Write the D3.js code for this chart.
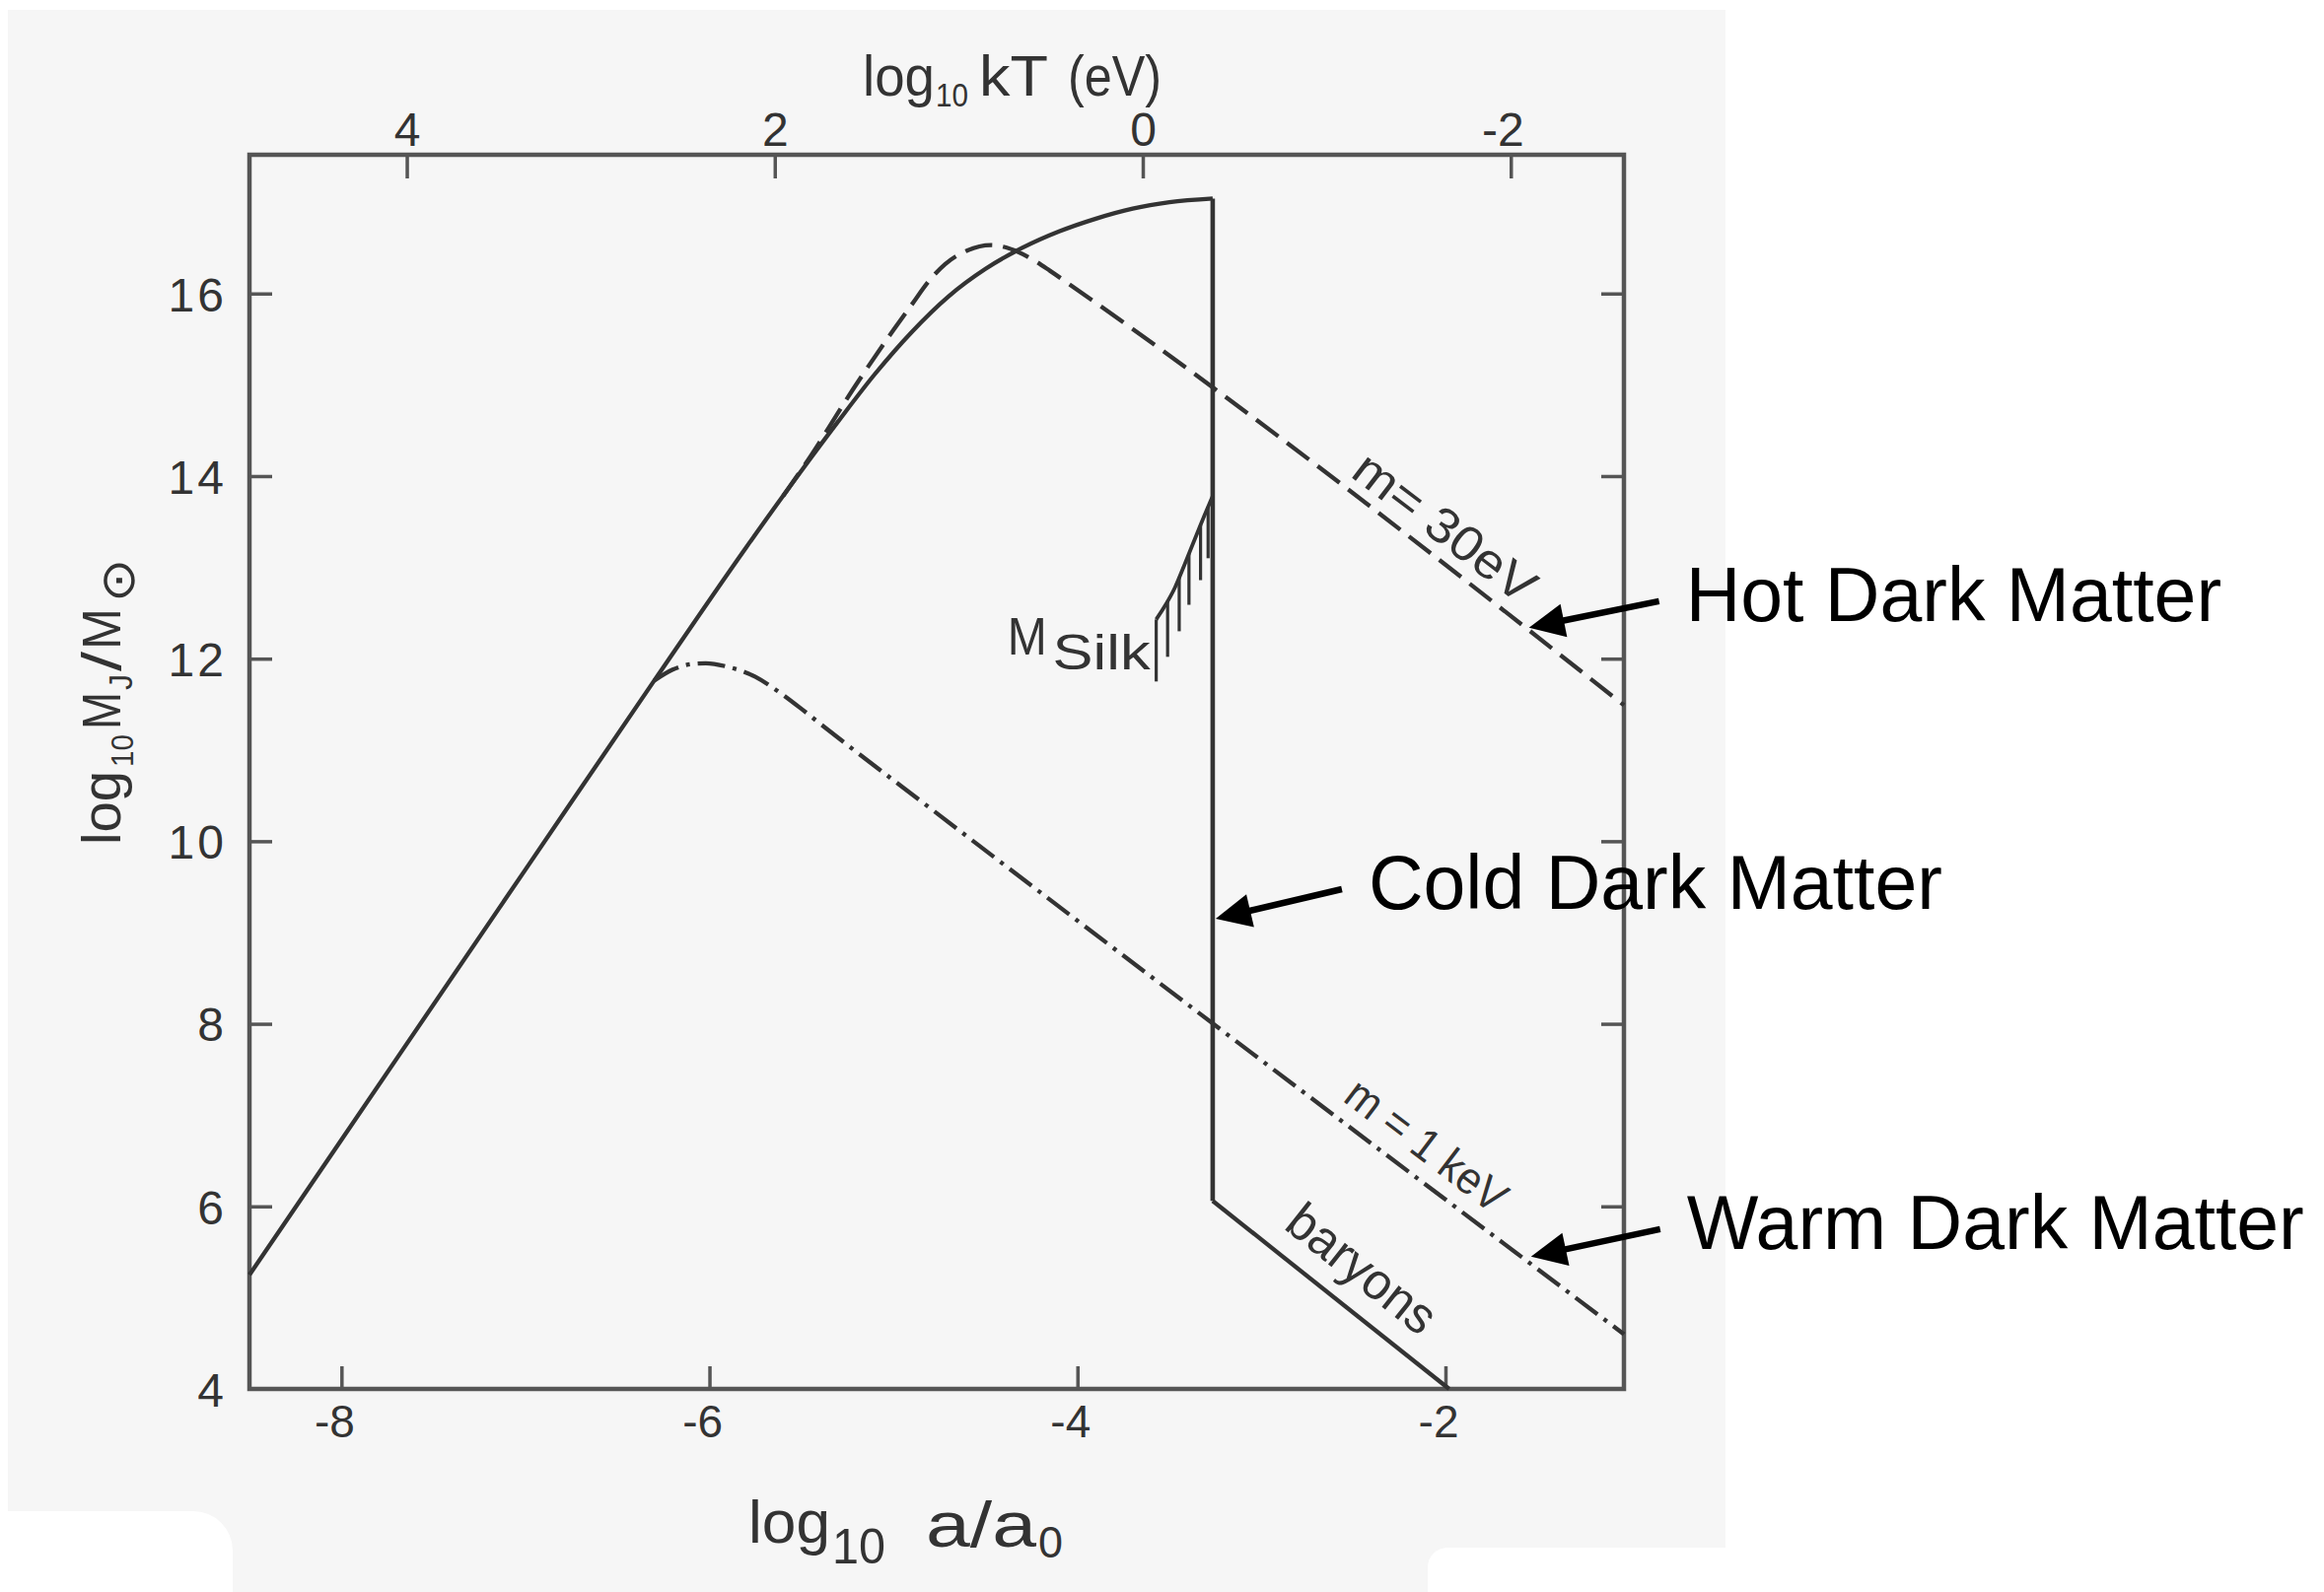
<!DOCTYPE html>
<html>
<head>
<meta charset="utf-8">
<script src="https://cdn.jsdelivr.net/npm/d3@7"></script>
<style>
  html, body { margin: 0; padding: 0; background: #fff; }
  svg { display: block; }
</style>
</head>
<body>
<svg id="chart" width="2357" height="1615"></svg>
<script>
// ---- Jeans mass vs. scale factor: curves in (log10 a/a0, log10 MJ/Msun) ----
// Cold dark matter / total Jeans mass (solid)
const cdmLogA = [-8.5, -8.0, -7.0, -6.3, -5.8, -5.5, -5.3, -5.1, -4.9, -4.7, -4.5, -4.3, -4.1, -3.9, -3.7, -3.5, -3.265];
const cdmLogM = [5.25, 6.73, 9.69, 11.76, 13.22, 14.06, 14.6, 15.12, 15.58, 15.97, 16.27, 16.5, 16.68, 16.82, 16.93, 17.0, 17.04];
// drop at recombination (solid)
const dropLogA = [-3.265, -3.265];
const dropLogM = [17.04, 6.06];
// baryons after recombination (solid)
const baryonLogA = [-3.265, -1.98];
const baryonLogM = [6.06, 4.0];
// hot dark matter, m = 30 eV (dashed)
const hdmLogA = [-5.6, -5.45, -5.22, -5.0, -4.9, -4.81, -4.72, -4.6, -4.47, -4.38, -4.25, -4.15, -4.05, -1.03];
const hdmLogM = [13.78, 14.22, 14.95, 15.6, 15.88, 16.13, 16.32, 16.47, 16.53, 16.5, 16.38, 16.25, 16.11, 11.49];
// warm dark matter, m = 1 keV (dash-dot)
const wdmLogA = [-6.3, -6.2, -6.1, -6.02, -5.9, -5.75, -5.64, -5.5, -5.4, -4.76, -1.03];
const wdmLogM = [11.76, 11.88, 11.94, 11.95, 11.91, 11.8, 11.66, 11.45, 11.29, 10.3, 4.6];
// Silk damping mass boundary and its hatching (lower ends)
const silkLogA = [-3.572, -3.53, -3.47, -3.42, -3.37, -3.32, -3.265];
const silkLogM = [12.43, 12.56, 12.78, 13.02, 13.27, 13.52, 13.78];
const silkHatchLogA = [-3.572, -3.51, -3.447, -3.394, -3.331, -3.29];
const silkHatchLowM = [11.75, 12.02, 12.3, 12.59, 12.86, 13.1];

// ---- axes ----
const xTicks = [-8, -6, -4, -2];
const yTicks = [4, 6, 8, 10, 12, 14, 16];
const kTTicks = [4, 2, 0, -2];
const kTOffset = -3.645;   // log10 kT(eV) = -log10(a/a0) + offset

// ---- annotations ----
const annotationLabels = ["Hot Dark Matter", "Cold Dark Matter", "Warm Dark Matter"];
const arrowTipLogA  = [-1.546, -3.249, -1.535];
const arrowTipLogM  = [12.34, 9.15, 5.45];
const arrowTailLogA = [-0.839, -2.563, -0.833];
const arrowTailLogM = [12.63, 9.475, 5.75];

// ---------------------------------------------------------------------------
const W = 2357, H = 1615;
const frame = { left: 253, right: 1647, top: 157, bottom: 1409 };
const FONT = "'Liberation Sans', Arial, Helvetica, sans-serif";
const INK = "#333";
const FRAME_INK = "#555";

const svg = d3.select("#chart");

// page backdrop: scanned figure on a light grey sheet, annotations on white
svg.append("rect").attr("width", W).attr("height", H).attr("fill", "#fff");
svg.append("rect").attr("x", 8).attr("y", 10).attr("width", 1742).attr("height", 1605).attr("fill", "#f6f6f6");
svg.append("rect").attr("x", -40).attr("y", 1533).attr("width", 276).attr("height", 140).attr("rx", 40).attr("fill", "#fff");
svg.append("rect").attr("x", 1448).attr("y", 1570).attr("width", 340).attr("height", 100).attr("rx", 20).attr("fill", "#fff");

const x = d3.scaleLinear().domain([-8.5, -1.03]).range([frame.left, frame.right]);
const y = d3.scaleLinear().domain([4, 17.52]).range([frame.bottom, frame.top]);
const xKT = d3.scaleLinear()
  .domain([-x.domain()[0] + kTOffset, -x.domain()[1] + kTOffset])
  .range([frame.left, frame.right]);

const fmt = d => (d < 0 ? "-" + Math.abs(d) : String(d));

function styleAxis(g, size) {
  g.attr("font-family", FONT).attr("font-size", size);
  g.select(".domain").remove();
  g.selectAll(".tick line").attr("stroke", FRAME_INK).attr("stroke-width", 3.5);
  g.selectAll(".tick text").attr("fill", "#333");
}

// bottom axis: log10 a/a0
const gB = svg.append("g").attr("transform", `translate(0,${frame.bottom})`)
  .call(d3.axisBottom(x).tickValues(xTicks).tickSize(-23).tickSizeOuter(0).tickFormat(fmt));
styleAxis(gB, 46);
gB.selectAll(".tick text").attr("y", 49).attr("dy", 0)
  .attr("text-anchor", d => (d < 0 ? "end" : "middle"))
  .attr("x", d => (d < 0 ? 13 : 0));

// top axis: log10 kT
const gT = svg.append("g").attr("transform", `translate(0,${frame.top})`)
  .call(d3.axisTop(xKT).tickValues(kTTicks).tickSize(-24).tickSizeOuter(0).tickFormat(fmt));
styleAxis(gT, 48);
gT.selectAll(".tick text").attr("y", -9).attr("dy", 0)
  .attr("text-anchor", d => (d < 0 ? "end" : "middle"))
  .attr("x", d => (d < 0 ? 13 : 0));

// left axis: log10 MJ/Msun
const gL = svg.append("g").attr("transform", `translate(${frame.left},0)`)
  .call(d3.axisLeft(y).tickValues(yTicks).tickSize(-23).tickSizeOuter(0).tickFormat(fmt));
styleAxis(gL, 48);
gL.selectAll(".tick text").attr("x", -23).attr("dy", "0.36em").attr("letter-spacing", 3);
gL.selectAll(".tick").filter(d => d === 4).select("line").remove();

// right axis: ticks only
const gR = svg.append("g").attr("transform", `translate(${frame.right},0)`)
  .call(d3.axisRight(y).tickValues(yTicks.filter(d => d > 4)).tickSize(-23).tickSizeOuter(0).tickFormat(""));
styleAxis(gR, 10);

// frame
svg.append("rect")
  .attr("x", frame.left).attr("y", frame.top)
  .attr("width", frame.right - frame.left).attr("height", frame.bottom - frame.top)
  .attr("fill", "none").attr("stroke", FRAME_INK).attr("stroke-width", 4.5);

// ---- curves ----
const straight = d3.line().x(d => x(d[0])).y(d => y(d[1]));
const smooth = d3.line().x(d => x(d[0])).y(d => y(d[1])).curve(d3.curveMonotoneX);

const curves = svg.append("g").attr("fill", "none").attr("stroke", INK)
  .attr("stroke-linejoin", "round");

curves.append("path").attr("d", smooth(d3.zip(cdmLogA, cdmLogM))).attr("stroke-width", 4.3);
curves.append("path").attr("d", straight(d3.zip(dropLogA, dropLogM))).attr("stroke-width", 4.6);
curves.append("path").attr("d", straight(d3.zip(baryonLogA, baryonLogM))).attr("stroke-width", 4.3);
curves.append("path").attr("d", smooth(d3.zip(hdmLogA, hdmLogM)))
  .attr("stroke-width", 4.3).attr("stroke-dasharray", "28,11");
curves.append("path").attr("d", smooth(d3.zip(wdmLogA, wdmLogM)))
  .attr("stroke-width", 4.3).attr("stroke-dasharray", "28,8,4,8");

// Silk mass boundary with hatching
curves.append("path").attr("d", smooth(d3.zip(silkLogA, silkLogM))).attr("stroke-width", 3.8);
const silkAt = d3.scaleLinear().domain(silkLogA).range(silkLogM);
curves.selectAll("line.hatch")
  .data(d3.zip(silkHatchLogA, silkHatchLowM))
  .join("line").attr("class", "hatch")
  .attr("x1", d => x(d[0])).attr("x2", d => x(d[0]))
  .attr("y1", d => y(silkAt(d[0]))).attr("y2", d => y(d[1]))
  .attr("stroke-width", 3.2);

// ---- text helpers ----
function piece(g, str, px, py, size, len) {
  const t = g.append("text").attr("x", px).attr("y", py)
    .attr("font-family", FONT).attr("font-size", size).attr("fill", "#333").text(str);
  if (len) t.attr("textLength", len).attr("lengthAdjust", "spacingAndGlyphs");
  return t;
}

// M_Silk label, placed beside the hatched band
const silkX = x(silkHatchLogA[0]), silkY = y(silkHatchLowM[0]);
piece(svg, "M", silkX - 151, silkY - 27, 53, 40);
piece(svg, "Silk", silkX - 105, silkY - 12, 50, 99);

// labels written along the lines
function labelAlong(str, a, fn, lift, size, len) {
  const px = x(a), py = y(fn(a));
  const qx = x(a + 0.1), qy = y(fn(a + 0.1));
  const ang = Math.atan2(qy - py, qx - px) * 180 / Math.PI;
  svg.append("text")
    .attr("transform", `translate(${px},${py - lift}) rotate(${ang})`)
    .attr("text-anchor", "middle").attr("dy", "0.36em")
    .attr("font-family", FONT).attr("font-size", size).attr("fill", "#333")
    .attr("textLength", len).attr("lengthAdjust", "spacingAndGlyphs")
    .text(str);
}
const hdmAt = d3.scaleLinear().domain(hdmLogA).range(hdmLogM);
const wdmAt = d3.scaleLinear().domain(wdmLogA).range(wdmLogM);
const baryonAt = d3.scaleLinear().domain(baryonLogA).range(baryonLogM);
labelAlong("m= 30eV", -2.0, hdmAt, 44, 50, 218);
labelAlong("m = 1 keV", -2.1, wdmAt, 41, 46, 192);
labelAlong("baryons", -2.45, baryonAt, 53, 52, 178);

// ---- axis titles ----
// top: log10 kT (eV)
const topTitle = svg.append("g");
piece(topTitle, "log", 875, 97, 58, 73);
piece(topTitle, "10", 949, 108, 33, 33);
piece(topTitle, "kT", 993, 97, 58, 70);
piece(topTitle, "(eV)", 1083, 97, 58, 95);

// bottom: log10 a/a0
const botTitle = svg.append("g");
piece(botTitle, "log", 759, 1565, 62, 83);
piece(botTitle, "10", 844, 1586, 50, 54);
piece(botTitle, "a/a", 939, 1569, 64, 112);
piece(botTitle, "0", 1053, 1580, 44, 25);

// left: log10 MJ/Msun (rotated)
const leftTitle = svg.append("g").attr("transform", "translate(122,857) rotate(-90)");
piece(leftTitle, "log", 0, 0, 56, 75);
piece(leftTitle, "10", 79, 13, 32, 33);
piece(leftTitle, "M", 117, 0, 56, 38);
piece(leftTitle, "J", 157, 12, 34, 16);
piece(leftTitle, "/", 176, 0, 56, 20);
piece(leftTitle, "M", 198, 0, 56, 42);
piece(leftTitle, "\u2299", 246, 14, 48, 44);

// ---- arrows and annotation text ----
const ann = svg.append("g");
annotationLabels.forEach((label, i) => {
  const tx = x(arrowTailLogA[i]), ty = y(arrowTailLogM[i]);
  const hx = x(arrowTipLogA[i]), hy = y(arrowTipLogM[i]);
  const len = Math.hypot(hx - tx, hy - ty);
  const ux = (hx - tx) / len, uy = (hy - ty) / len;
  const headLen = 36, headHalf = 17;
  const bx = hx - ux * headLen, by = hy - uy * headLen;
  ann.append("line")
    .attr("x1", tx).attr("y1", ty).attr("x2", bx + ux * 4).attr("y2", by + uy * 4)
    .attr("stroke", "#000").attr("stroke-width", 6.5);
  ann.append("polygon")
    .attr("points", [[hx, hy], [bx - uy * headHalf, by + ux * headHalf], [bx + uy * headHalf, by - ux * headHalf]].map(p => p.join(",")).join(" "))
    .attr("fill", "#000");
  ann.append("text")
    .attr("x", tx + 27).attr("y", ty + 20)
    .attr("font-family", FONT).attr("font-size", 77).attr("fill", "#000")
    .text(label);
});
</script>
</body>
</html>
